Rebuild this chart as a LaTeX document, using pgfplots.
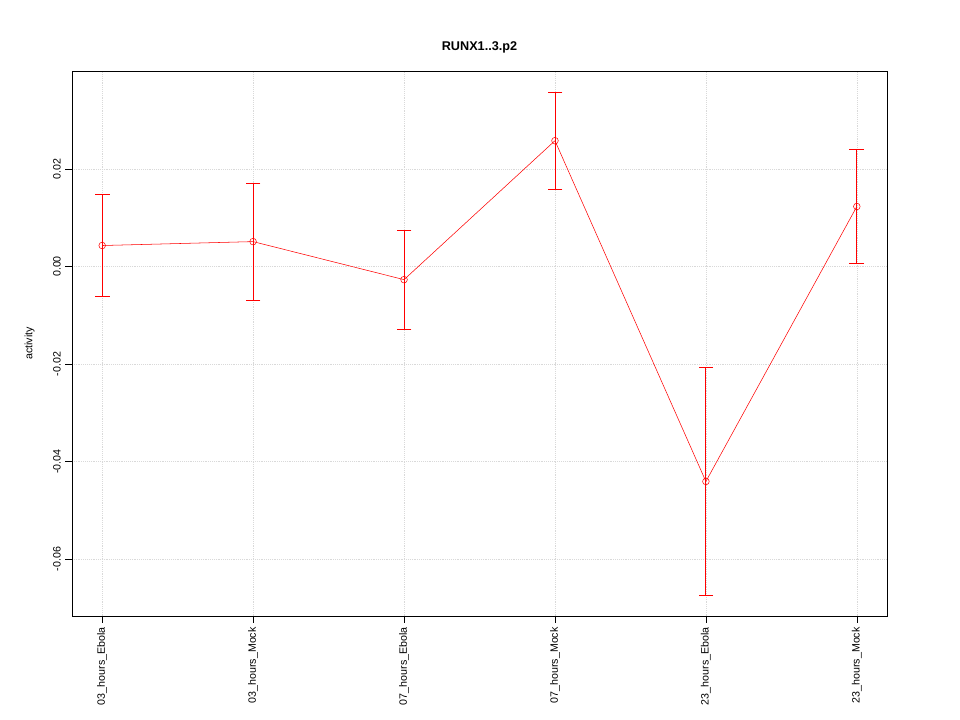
\documentclass[border=0pt]{standalone}
\usepackage{pgfplots}
\pgfplotsset{compat=1.18}
\usepackage{fontspec}
\setmainfont{Liberation Sans}
\begin{document}
\begin{tikzpicture}
\begin{axis}[
  scale only axis,
  width=611.25pt, height=408.75pt,
  xmin=-0.2, xmax=5.2,
  ymin=-0.0717, ymax=0.0401,
  scaled y ticks=false,
  unbounded coords=jump,
  xtick={0,1,2,3,4,5},
  xticklabels={03\_hours\_Ebola,03\_hours\_Mock,07\_hours\_Ebola,07\_hours\_Mock,23\_hours\_Ebola,23\_hours\_Mock},
  xticklabel style={rotate=90, anchor=east, font=\fontsize{8pt}{9pt}\selectfont},
  ytick={-0.06,-0.04,-0.02,0,0.02},
  yticklabels={-0.06,-0.04,-0.02,0.00,0.02},
  yticklabel style={rotate=90, anchor=south, font=\fontsize{8pt}{9pt}\selectfont},
  ylabel={activity},
  ylabel style={font=\fontsize{8pt}{9pt}\selectfont, at={(-0.04,0.5)}},
  title={\textbf{RUNX1..3.p2}},
  title style={font=\fontsize{9.5pt}{11pt}\selectfont, at={(0.5,1)}, yshift=4pt},
  grid=major,
  grid style={densely dotted, gray!30},
  tick align=outside,
  tick style={black},
  major tick length=5pt,
  axis line style={black},
  xtick pos=left, ytick pos=left,
]
% error bars: low/high pairs
\addplot[color=red, solid, line width=0.6pt, mark=-, mark size=5.5pt,
  mark options={solid, color=red, line width=0.6pt}, forget plot]
  coordinates {
  (0,-0.0062) (0,0.0148) (0,nan)
  (1,-0.0069) (1,0.0171) (1,nan)
  (2,-0.0129) (2,0.0075) (2,nan)
  (3,0.0158) (3,0.0358) (3,nan)
  (4,-0.0675) (4,-0.0207) (4,nan)
  (5,0.0006) (5,0.0240)
  };
\addplot[color=red, solid, mark=o, mark size=2.5pt,
  mark options={solid, draw=red, fill=white}, forget plot]
  coordinates {
  (0,0.0043) (1,0.0051) (2,-0.0027) (3,0.0258) (4,-0.0441) (5,0.0123)
  };
\end{axis}
\path[use as bounding box] (-54pt,-78pt) rectangle (666pt,462pt);
\end{tikzpicture}
\end{document}
